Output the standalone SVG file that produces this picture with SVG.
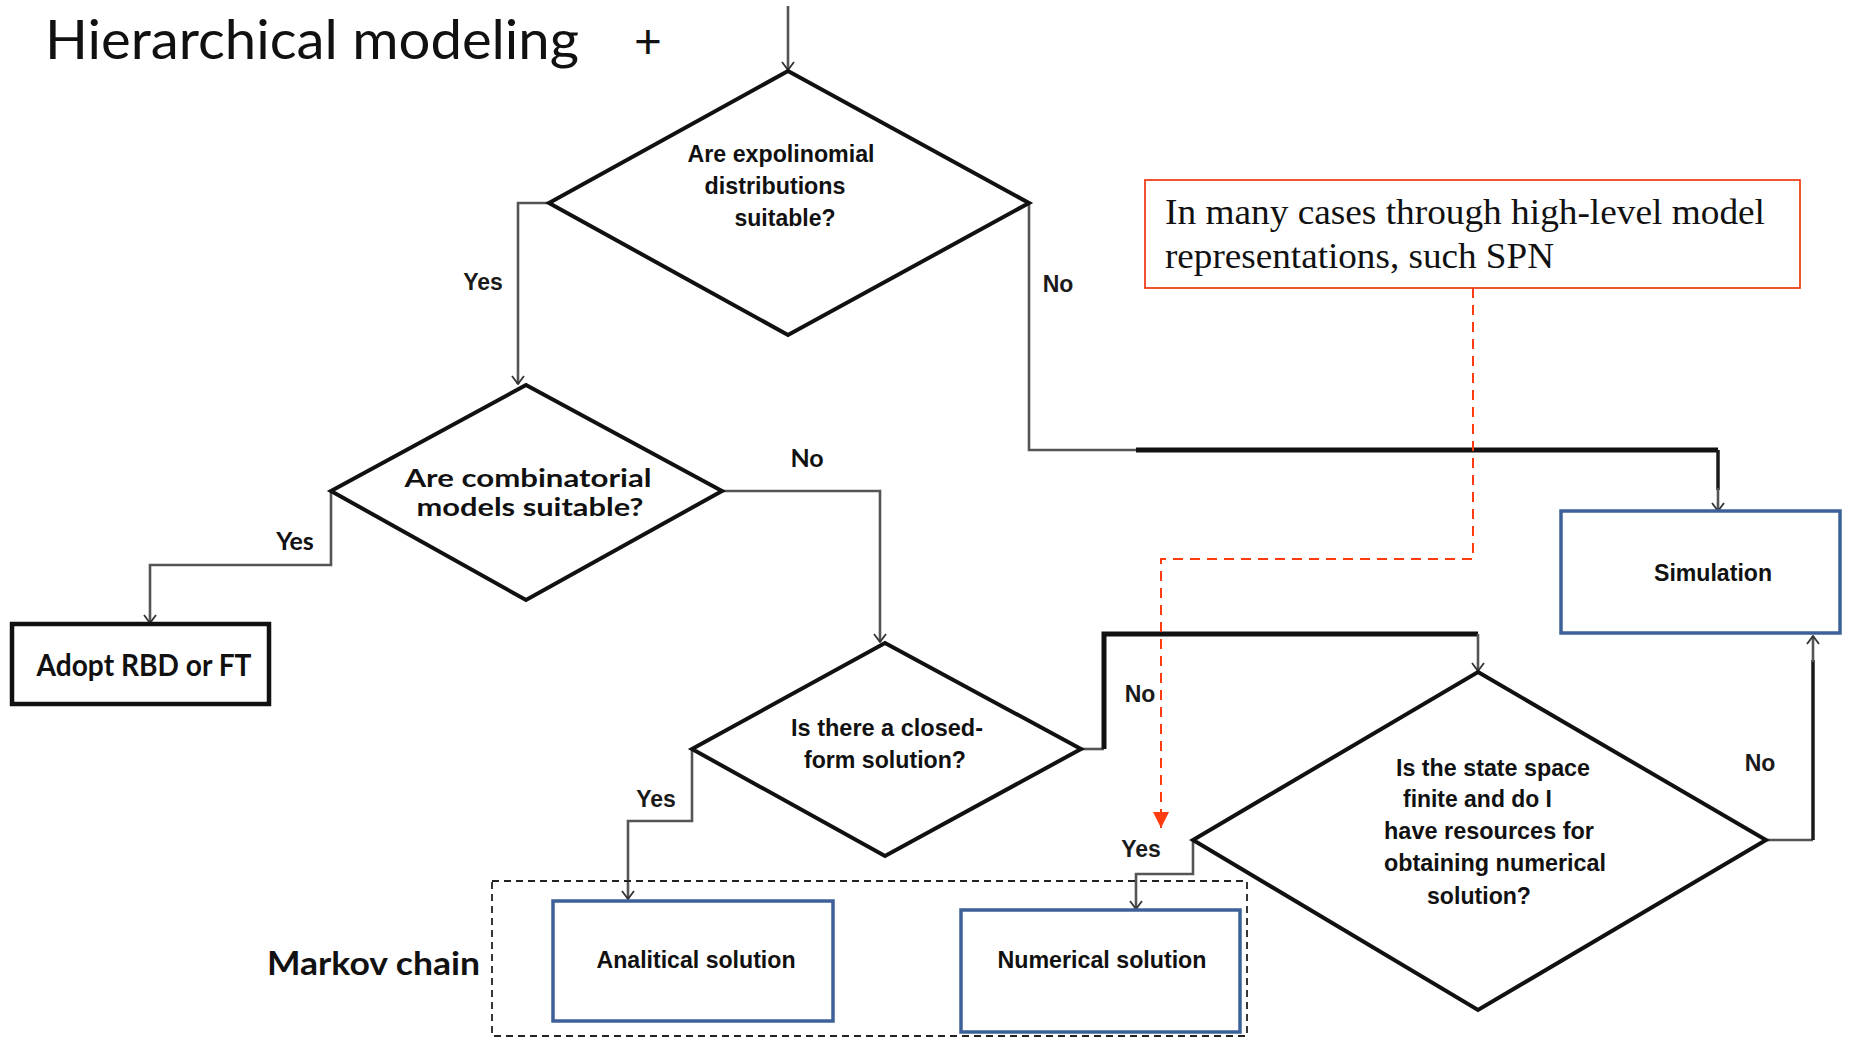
<svg xmlns="http://www.w3.org/2000/svg" width="1852" height="1038" viewBox="0 0 1852 1038">
  <defs>
    <marker id="open" viewBox="0 0 14 14" refX="13" refY="7" markerWidth="14" markerHeight="14" markerUnits="userSpaceOnUse" orient="auto">
      <path d="M5,1 L13,7 L5,13" fill="none" stroke="#333" stroke-width="1.8"/>
    </marker>
    <marker id="redtip" viewBox="0 0 16 16" refX="16" refY="8" markerWidth="16" markerHeight="16" markerUnits="userSpaceOnUse" orient="auto">
      <path d="M0,0 L16,8 L0,16 Z" fill="#ff3b10"/>
    </marker>
    <style>
      .dia { fill: none; stroke: #111; stroke-width: 4; stroke-linejoin: miter; }
      .blue { fill: #fff; stroke: #3d6098; stroke-width: 3.5; }
      .lbl { font-family: "Liberation Sans", Arial, sans-serif; font-weight: bold; font-size: 24px; fill: #111; }
      .cal { font-family: "Lato", "Liberation Sans", sans-serif; font-weight: bold; fill: #111; }
      .yn { font-family: "Liberation Sans", Arial, sans-serif; font-weight: bold; font-size: 23px; fill: #1a1a1a; }
      .thin { fill: none; stroke: #555; stroke-width: 2.6; }
      .thick { fill: none; stroke: #111; stroke-width: 5; }
      .mid { fill: none; stroke: #1a1a1a; stroke-width: 3.5; }
    </style>
  </defs>
  <rect width="1852" height="1038" fill="#fff"/>

  <!-- title -->
  <g id="title">
    <text x="45" y="59" font-family="Lato, 'Open Sans', sans-serif" font-size="54" fill="#111" textLength="534" lengthAdjust="spacingAndGlyphs">Hierarchical modeling</text>
    <text x="634" y="58" font-family="Lato, 'Open Sans', sans-serif" font-size="48" fill="#111">+</text>
  </g>

  <!-- connectors -->
  <g id="connectors">
    <!-- entry -->
    <path d="M788,6 V70" class="thin" stroke="#222" marker-end="url(#open)"/>
    <!-- D1 yes -->
    <path d="M549,203 H518 V384" class="thin" marker-end="url(#open)"/>
    <!-- D1 no -->
    <path d="M1029,203 V450 H1136" class="thin" stroke="#777" stroke-width="3"/>
    <path d="M1136,450 H1718" class="thick"/>
    <path d="M1718,450 V490" class="mid"/>
    <path d="M1718,488 V511" class="thin" stroke="#222" marker-end="url(#open)"/>
    <!-- D2 yes -->
    <path d="M331,491 V565 H150 V623" class="thin" marker-end="url(#open)"/>
    <!-- D2 no -->
    <path d="M722,491 H880 V642" class="thin" marker-end="url(#open)"/>
    <!-- D3 yes -->
    <path d="M692,749 V821 H628 V899" class="thin" marker-end="url(#open)"/>
    <!-- D3 no -->
    <path d="M1081,749 H1104" class="thin"/>
    <path d="M1104,749 V634 H1478" class="thick"/>
    <path d="M1478,634 V671" class="thin" marker-end="url(#open)"/>
    <!-- D4 yes -->
    <path d="M1193,840 V874 H1136 V909" class="thin" marker-end="url(#open)"/>
    <!-- D4 no -->
    <path d="M1766,840 H1813" class="thin"/>
    <path d="M1813,840 V660" class="mid"/>
    <path d="M1813,662 V636" class="thin" marker-end="url(#open)"/>
    <!-- annotation pointer -->
    <path d="M1473,288 V559 H1161 V828" fill="none" stroke="#ff3b10" stroke-width="2" stroke-dasharray="10,7" marker-end="url(#redtip)"/>
  </g>

  <!-- edge labels -->
  <g id="edge-labels">
    <text class="yn" x="483" y="290" text-anchor="middle">Yes</text>
    <text class="yn" x="1058" y="292" text-anchor="middle">No</text>
    <text class="cal" x="295" y="550" font-size="25" text-anchor="middle">Yes</text>
    <text class="cal" x="807" y="467" font-size="25" text-anchor="middle">No</text>
    <text class="yn" x="656" y="807" text-anchor="middle">Yes</text>
    <text class="yn" x="1140" y="702" text-anchor="middle">No</text>
    <text class="yn" x="1141" y="857" text-anchor="middle">Yes</text>
    <text class="yn" x="1760" y="771" text-anchor="middle">No</text>
  </g>

  <!-- decision: exponential distributions -->
  <g id="d-expo">
    <polygon class="dia" points="788,71 1029,203 788,335 549,203"/>
    <text class="lbl" x="781" y="162" text-anchor="middle" textLength="187" lengthAdjust="spacingAndGlyphs">Are expolinomial</text>
    <text class="lbl" x="775" y="194" text-anchor="middle" textLength="141" lengthAdjust="spacingAndGlyphs">distributions</text>
    <text class="lbl" x="785" y="226" text-anchor="middle" textLength="101" lengthAdjust="spacingAndGlyphs">suitable?</text>
  </g>

  <!-- decision: combinatorial models -->
  <g id="d-comb">
    <polygon class="dia" points="526,385 722,491 526,600 331,491"/>
    <text class="cal" x="528" y="487" font-size="25" text-anchor="middle" textLength="247" lengthAdjust="spacingAndGlyphs">Are combinatorial</text>
    <text class="cal" x="530" y="516" font-size="25" text-anchor="middle" textLength="227" lengthAdjust="spacingAndGlyphs">models suitable?</text>
  </g>

  <!-- result: RBD / FT -->
  <g id="n-rbd">
    <rect x="12" y="624" width="257" height="80" fill="#fff" stroke="#111" stroke-width="4.5"/>
    <text class="cal" x="144" y="676" font-size="30" text-anchor="middle" textLength="215" lengthAdjust="spacingAndGlyphs">Adopt RBD or FT</text>
  </g>

  <!-- decision: closed form -->
  <g id="d-closed">
    <polygon class="dia" points="885,643 1081,749 885,856 692,749"/>
    <text class="lbl" x="887" y="736" text-anchor="middle" textLength="192" lengthAdjust="spacingAndGlyphs">Is there a closed-</text>
    <text class="lbl" x="885" y="768" text-anchor="middle" textLength="162" lengthAdjust="spacingAndGlyphs">form solution?</text>
  </g>

  <!-- decision: state space -->
  <g id="d-state">
    <polygon class="dia" points="1478,672 1766,840 1478,1010 1193,840"/>
    <text class="lbl" x="1396" y="776" textLength="194" lengthAdjust="spacingAndGlyphs">Is the state space</text>
    <text class="lbl" x="1403" y="807" textLength="149" lengthAdjust="spacingAndGlyphs">finite and do I</text>
    <text class="lbl" x="1384" y="839" textLength="210" lengthAdjust="spacingAndGlyphs">have resources for</text>
    <text class="lbl" x="1384" y="871" textLength="222" lengthAdjust="spacingAndGlyphs">obtaining numerical</text>
    <text class="lbl" x="1427" y="904" textLength="104" lengthAdjust="spacingAndGlyphs">solution?</text>
  </g>

  <!-- result: simulation -->
  <g id="n-sim">
    <rect class="blue" x="1561" y="511" width="279" height="122"/>
    <text class="lbl" x="1713" y="581" text-anchor="middle" textLength="118" lengthAdjust="spacingAndGlyphs">Simulation</text>
  </g>

  <!-- Markov chain group -->
  <g id="g-markov">
    <rect x="492" y="881" width="755" height="155" fill="none" stroke="#222" stroke-width="1.8" stroke-dasharray="7,5"/>
    <text class="cal" x="267" y="975" font-size="33" textLength="213" lengthAdjust="spacingAndGlyphs">Markov chain</text>
  </g>

  <g id="n-analytical">
    <rect class="blue" x="553" y="901" width="280" height="120"/>
    <text class="lbl" x="696" y="968" text-anchor="middle" textLength="199" lengthAdjust="spacingAndGlyphs">Analitical solution</text>
  </g>

  <g id="n-numerical">
    <rect class="blue" x="961" y="910" width="279" height="122"/>
    <text class="lbl" x="1102" y="968" text-anchor="middle" textLength="209" lengthAdjust="spacingAndGlyphs">Numerical solution</text>
  </g>

  <!-- annotation -->
  <g id="note-spn">
    <rect x="1145" y="180" width="655" height="108" fill="#fff" stroke="#f0401a" stroke-width="1.8"/>
    <text x="1165" y="224" font-family="'Liberation Serif', 'Times New Roman', serif" font-size="35" fill="#111" textLength="600" lengthAdjust="spacingAndGlyphs">In many cases through high-level model</text>
    <text x="1165" y="268" font-family="'Liberation Serif', 'Times New Roman', serif" font-size="35" fill="#111" textLength="389" lengthAdjust="spacingAndGlyphs">representations, such SPN</text>
  </g>
</svg>
